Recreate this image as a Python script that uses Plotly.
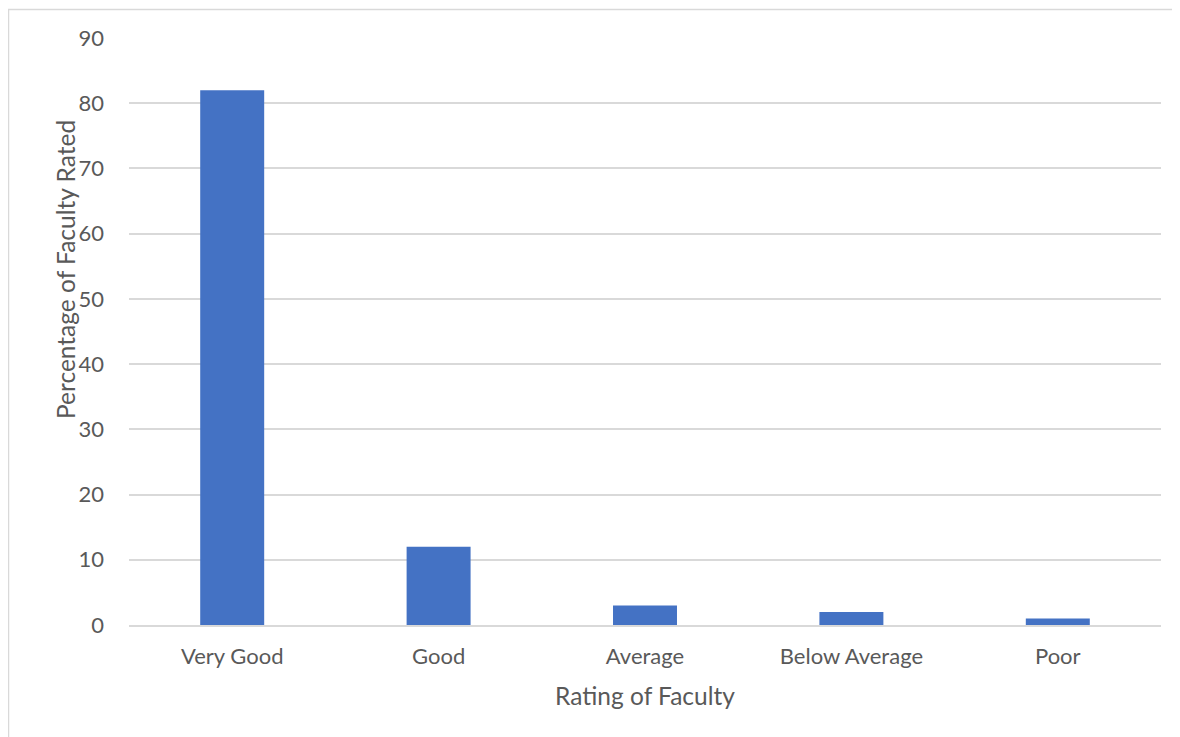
import plotly.graph_objects as go

categories = ["Very Good", "Good", "Average", "Below Average", "Poor"]
values = [82, 12, 3, 2, 1]
y_ticks = [0, 10, 20, 30, 40, 50, 60, 70, 80, 90]

W, H = 1180, 737
OFF = 8  # page body margin offset
L, R, T, B = 129 - OFF, 19 + OFF, 38 - OFF, 112 + OFF
pw, ph = W - L - R, H - T - B

def px_x(px):
    return (px - OFF - L) / pw

def px_y(py):
    return (H - B - (py - OFF)) / ph

FONT = "Lato"
TXT = "#595959"

fig = go.Figure(go.Bar(x=categories, y=values, marker=dict(color="#4472C4", line=dict(width=0))))

fig.update_layout(
    width=W, height=H,
    margin=dict(l=L, r=R, t=T, b=B, autoexpand=False),
    paper_bgcolor="white", plot_bgcolor="white",
    bargap=0.69,
    showlegend=False,
    font=dict(family=FONT, color=TXT, size=22),
    xaxis=dict(showgrid=False, showline=True, linecolor="#D9D9D9", linewidth=1.5,
               ticks="", tickfont=dict(size=22, color=TXT), ticklabelstandoff=11,
               title=dict(text="Rating of Faculty", font=dict(size=24.5, color=TXT), standoff=20)),
    yaxis=dict(range=[0, 90], tickvals=y_ticks, showgrid=True, gridcolor="#D9D9D9", gridwidth=1.5,
               zeroline=False, showline=False, ticks="", tickfont=dict(size=22, color=TXT),
               ticklabelstandoff=24),
    shapes=[dict(type="rect", xref="paper", yref="paper",
                 x0=px_x(8.5), x1=px_x(1200), y0=px_y(770), y1=px_y(9.5),
                 line=dict(color="#D9D9D9", width=1.5), fillcolor="rgba(0,0,0,0)", layer="below")],
    annotations=[dict(text="Percentage of Faculty Rated", xref="paper", yref="paper",
                      x=px_x(65), y=px_y(270), textangle=-90, showarrow=False,
                      font=dict(size=24.5, color=TXT), xanchor="center", yanchor="middle")],
)

fig.write_html("out.html")
